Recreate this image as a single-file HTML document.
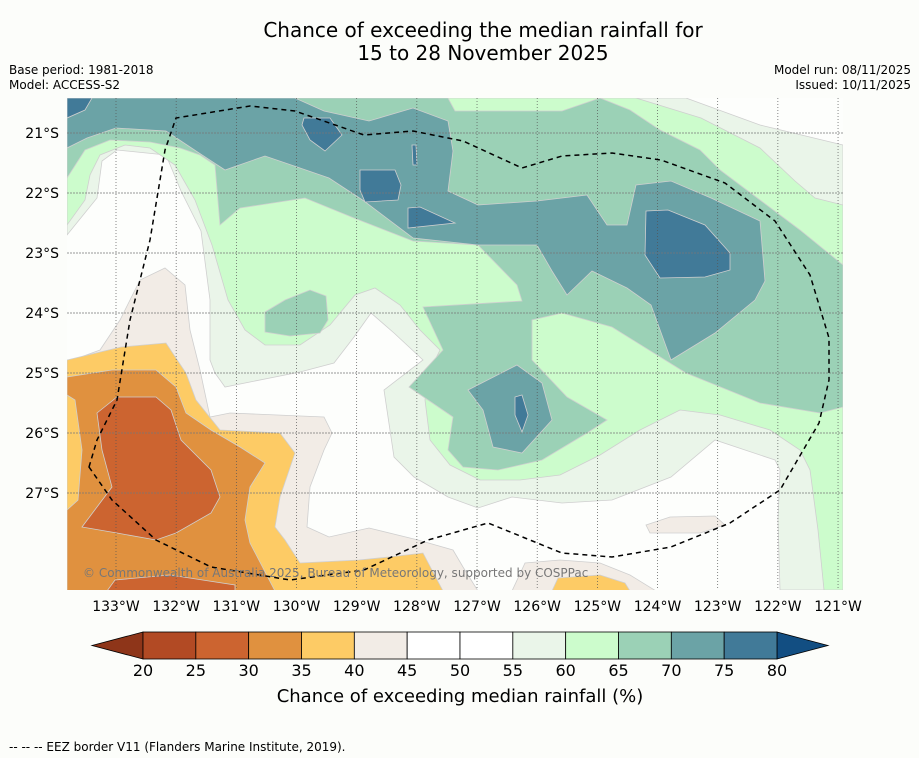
<!DOCTYPE html>
<html><head><meta charset="utf-8">
<style>
body{margin:0;background:#fcfdfa;font-family:"DejaVu Sans","Liberation Sans",sans-serif;}
#wrap{position:relative;width:919px;height:758px;overflow:hidden;background:#fcfdfa;}
.t{position:absolute;white-space:nowrap;color:#000;}
</style></head><body>
<div id="wrap">
<div class="t" style="left:0;width:966px;top:19px;text-align:center;font-size:20px;line-height:23px;">Chance of exceeding the median rainfall for<br>15 to 28 November 2025</div>
<div class="t" style="left:9px;top:63px;font-size:12px;line-height:15px;">Base period: 1981-2018<br>Model: ACCESS-S2</div>
<div class="t" style="right:8px;top:63px;font-size:12px;line-height:15px;text-align:right;">Model run: 08/11/2025<br>Issued: 10/11/2025</div>
<svg id="svg" width="919" height="758" style="position:absolute;left:0;top:0">
<defs><clipPath id="pc"><rect x="67" y="98" width="776" height="492"/></clipPath></defs>
<g clip-path="url(#pc)" stroke="#cfcfcf" stroke-width="0.8">
<rect x="67" y="98" width="776" height="492" fill="#fdfefc" stroke="none"/>
<polygon fill="#eaf5e9" points="67,98 686,98 760,125 843,145 843,590 780,590 778,520 780,470 775,460 715,440 671,477 612,500 562,503 512,497 478,508 448,497 414,477 394,457 384,390 423,360 394,333 371,313 354,337 334,363 300,372 225,387 215,373 210,360 210,300 201,231 181,191 166,155 117,150 102,161 97,198 67,235"/>
<polygon fill="#ccfccc" points="67,98 636,98 701,118 760,148 795,181 815,198 843,205 843,590 824,590 818,530 810,470 800,450 770,430 720,415 680,410 640,430 600,455 560,475 520,480 480,480 450,465 430,440 425,400 430,370 440,350 420,330 400,305 375,288 355,295 330,325 300,345 265,345 245,330 228,300 212,245 195,200 175,165 150,148 125,145 100,155 90,175 85,200 67,225"/>
<polygon fill="#9bd1b6" points="67,98 448,98 455,111 562,111 600,98 630,110 660,130 700,150 720,170 760,200 800,230 843,265 843,407 820,413 760,403 686,373 612,327 562,313 532,320 532,360 567,397 607,420 587,433 542,460 498,470 463,467 448,450 453,417 409,387 443,350 423,307 522,301 517,285 478,245 413,241 354,218 305,198 240,208 220,225 215,165 200,155 180,148 150,142 110,140 85,150 67,178"/>
<polygon fill="#9bd1b6" points="265,312 285,300 310,290 326,296 328,320 320,333 290,336 265,332"/>
<polygon fill="#6ba3a6" points="67,98 295,98 324,111 369,121 413,108 448,121 453,151 448,191 478,205 537,201 587,195 607,225 627,225 636,185 671,181 711,198 760,221 765,281 755,300 715,333 671,360 651,305 627,288 592,271 567,295 552,271 537,245 478,245 413,238 364,201 329,178 300,168 265,156 225,170 196,151 166,131 116,128 87,138 67,148"/>
<polygon fill="#6ba3a6" points="468,390 517,365 542,383 552,420 522,453 493,447 483,410"/>
<g fill="#417a98">
<polygon points="67,98 92,98 85,110 67,118"/>
<polygon points="304,118 330,118 342,135 325,151 310,140 302,125"/>
<polygon points="412,145 416,145 417,165 413,165"/>
<polygon points="360,170 395,170 401,185 398,200 365,202 360,190"/>
<polygon points="408,208 420,207 455,223 408,228"/>
<polygon points="646,211 668,210 705,225 730,253 730,270 705,277 660,278 645,255"/>
<polygon points="515,397 522,395 528,415 522,432 515,415"/>
</g>
<polygon fill="#f2ece6" points="67,362 100,350 120,320 140,280 165,268 185,285 190,330 200,370 210,417 230,413 324,417 332,433 324,450 310,487 307,527 329,537 369,528 418,540 453,550 463,567 478,591 67,591"/>
<polygon fill="#f2ece6" points="512,591 525,563 560,560 600,563 630,575 656,591"/>
<polygon fill="#f2ece6" points="646,525 670,517 715,516 725,525 700,533 650,533"/>
<polygon fill="#fdcb65" points="67,360 121,347 166,343 186,373 196,400 220,430 280,433 295,453 280,497 275,527 285,540 300,563 359,560 389,557 423,553 443,591 67,591"/>
<polygon fill="#fdcb65" points="552,591 558,578 600,575 625,583 630,591"/>
<polygon fill="#e0913f" points="67,377 112,370 156,370 176,387 186,413 211,430 240,447 265,463 250,487 245,520 250,543 275,591 67,591"/>
<polygon fill="#fdcb65" points="67,395 75,400 82,450 78,500 67,510"/>
<polygon fill="#cc6430" points="97,413 117,397 156,397 171,410 181,440 211,470 220,497 211,513 176,533 156,540 117,533 82,527 112,487 102,450"/>
<polygon fill="#cc6430" points="107,591 115,580 170,575 235,585 235,591"/>
<g id="grid"></g>
<path fill="none" stroke="#000" stroke-width="1.5" stroke-dasharray="5,4" d="M89,467 L97,440 L117,400 L130,320 L150,240 L165,150 L176,118 L250,106 L295,111 L364,135 L413,131 L463,141 L522,168 L562,156 L612,153 L661,160 L725,183 L775,221 L810,275 L829,338 L829,380 L819,423 L780,490 L730,523 L671,547 L612,557 L562,553 L488,523 L428,540 L364,570 L290,580 L211,567 L156,540 L112,500 Z"/>
<text x="83" y="577" font-size="12" fill="#777" stroke="none" font-family="DejaVu Sans, sans-serif">© Commonwealth of Australia 2025, Bureau of Meteorology, supported by COSPPac</text>
</g>
<g id="axes"></g>
<g id="cbar"></g>
</svg>
<div class="t" style="left:0;width:920px;top:686px;text-align:center;font-size:18px;">Chance of exceeding median rainfall (%)</div>
<div class="t" style="left:9px;top:740px;font-size:12px;">--  --  -- EEZ border V11 (Flanders Marine Institute, 2019).</div>
</div>
<script>
const lonLabels=["133°W","132°W","131°W","130°W","129°W","128°W","127°W","126°W","125°W","124°W","123°W","122°W","121°W"];
const latLabels=["21°S","22°S","23°S","24°S","25°S","26°S","27°S"];
const cbLevels=[20,25,30,35,40,45,50,55,60,65,70,75,80];
const cbColors=["#b24a24","#cc6430","#e0913f","#fdcb65","#f2ece6","#ffffff","#ffffff","#eaf5e9","#ccfccc","#9bd1b6","#6ba3a6","#417a98"];
const cbUnder="#8e3519", cbOver="#124e82";
const NS="http://www.w3.org/2000/svg";
const FF='DejaVu Sans, Liberation Sans, sans-serif';
function mk(tag,attrs,parent){const e=document.createElementNS(NS,tag);for(const k in attrs)e.setAttribute(k,attrs[k]);parent.appendChild(e);return e;}
const xLon=i=>116+i*60.17, yLat=i=>133+i*60;
const grid=document.getElementById('grid'), axes=document.getElementById('axes');
lonLabels.forEach((l,i)=>{
  const ln=mk('line',{x1:xLon(i),x2:xLon(i),y1:98,y2:590,stroke:'#555','stroke-width':0.7,'stroke-dasharray':'1,2'},grid);
  
  
  const t=mk('text',{x:xLon(i),y:611,'text-anchor':'middle','font-size':14,'font-family':FF},axes);
  t.textContent=l;
  
  
});
latLabels.forEach((l,i)=>{
  const ln=mk('line',{x1:67,x2:843,y1:yLat(i),y2:yLat(i),stroke:'#777','stroke-width':0.8,'stroke-dasharray':'2,1'},grid);
  
  
  const t=mk('text',{x:59,y:yLat(i)+5,'text-anchor':'end','font-size':14,'font-family':FF},axes);
  t.textContent=l;
  
  
});
const cb=document.getElementById('cbar');
const cx0=143,cx1=777,cy0=632,cy1=659;
const cbx=v=>cx0+(v-cbLevels[0])/(cbLevels[cbLevels.length-1]-cbLevels[0])*(cx1-cx0);
const under=mk('polygon',{points:`92,${(cy0+cy1)/2} ${cx0},${cy0} ${cx0},${cy1}`,fill:cbUnder,stroke:'#000','stroke-width':0.8},cb);


const over=mk('polygon',{points:`828,${(cy0+cy1)/2} ${cx1},${cy0} ${cx1},${cy1}`,fill:cbOver,stroke:'#000','stroke-width':0.8},cb);


cbColors.forEach((c,i)=>{
  const r=mk('rect',{x:cbx(cbLevels[i]),y:cy0,width:cbx(cbLevels[i+1])-cbx(cbLevels[i]),height:cy1-cy0,fill:c,stroke:'#000','stroke-width':0.8},cb);
  
  
});
cbLevels.forEach(v=>{
  const t=mk('text',{x:cbx(v),y:676,'text-anchor':'middle','font-size':16,'font-family':FF},cb);
  t.textContent=v;
  
  
});
</script>
</body></html>
